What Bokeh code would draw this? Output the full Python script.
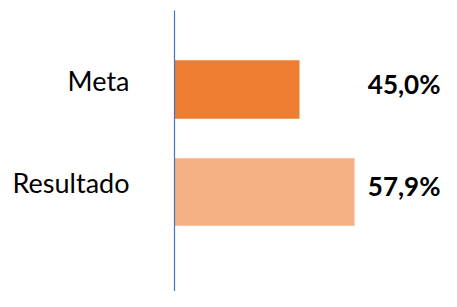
from bokeh.plotting import figure
from bokeh.models import Range1d, FixedTicker, ColumnDataSource, LabelSet
from bokeh.embed import file_html
from bokeh.resources import INLINE
from bokeh.core.properties import value

# ---- data ----
categories = ["Meta", "Resultado"]
values = [45.0, 57.9]
value_labels = ["45,0%", "57,9%"]

# ---- style ----
colors = ["#ED7D31", "#F4B183"]
bar_heights = [0.57, 0.66]
X_START, X_END = 15.68, 78.30
LABEL_SHIFT = 0.088

pos = list(range(len(categories)))
src = ColumnDataSource(dict(y=pos, v=values, lab=value_labels, c=colors,
                            h=bar_heights, xl=[X_END] * len(pos)))

p = figure(width=441, height=291, output_backend="svg", toolbar_location=None,
           x_range=Range1d(X_START, X_END), y_range=Range1d(1.971, -0.771),
           x_axis_location=None, min_border_left=174, min_border_right=0,
           min_border_top=10, min_border_bottom=0)
p.outline_line_color = None
p.xgrid.visible = False
p.ygrid.visible = False
p.background_fill_color = "white"
p.border_fill_color = "white"

p.hbar(y="y", left=0, right="v", height="h", fill_color="c", line_color=None, source=src)

vals = LabelSet(x="xl", y="y", text="lab", source=src, text_align="right",
                text_baseline="middle", x_offset=-1, y_offset=6,
                text_font=value("Lato"), text_font_size="26px",
                text_font_style="bold", text_color="black")
p.add_layout(vals)

ticks = [i - LABEL_SHIFT for i in pos]
ax = p.yaxis[0]
ax.ticker = FixedTicker(ticks=ticks)
ax.major_label_overrides = {t: c for t, c in zip(ticks, categories)}
ax.major_tick_in = 0
ax.major_tick_out = 0
ax.minor_tick_in = 0
ax.minor_tick_out = 0
ax.axis_line_color = "#4472C4"
ax.axis_line_width = 1.2
ax.major_label_standoff = 45
ax.major_label_text_font = "Lato"
ax.major_label_text_font_size = "27px"
ax.major_label_text_color = "black"

open("out.html", "w").write(file_html(p, INLINE))
